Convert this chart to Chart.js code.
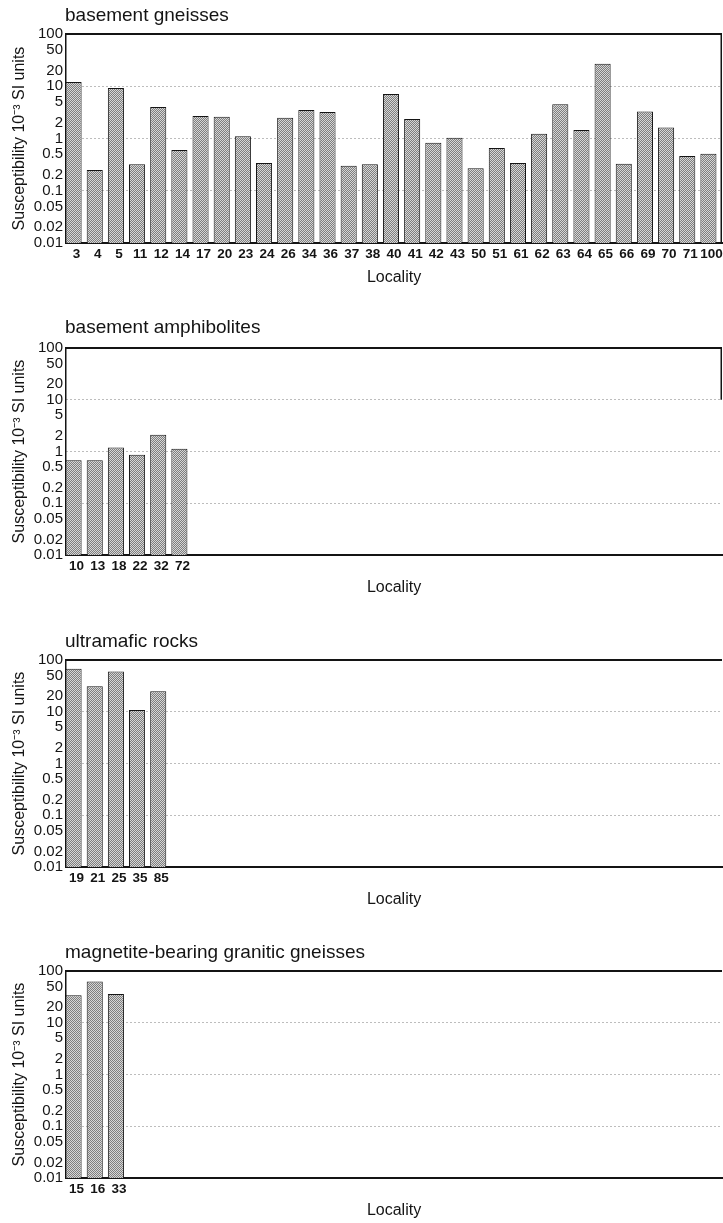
<!DOCTYPE html>
<html>
<head>
<meta charset="utf-8">
<script src="https://cdn.jsdelivr.net/npm/chart.js@4.4.0/dist/chart.umd.min.js"></script>
<style>
  html, body { margin: 0; padding: 0; background: #fff; }
  body { position: relative; width: 723px; height: 1223px; overflow: hidden; }
  .panel { position: absolute; left: 0; width: 723px; height: 290px; }
</style>
</head>
<body>
<div class="panel" style="top:0px"><canvas id="gneiss" width="723" height="290"></canvas></div>
<div class="panel" style="top:310px"><canvas id="amph" width="723" height="290"></canvas></div>
<div class="panel" style="top:622px"><canvas id="ultra" width="723" height="290"></canvas></div>
<div class="panel" style="top:933px"><canvas id="magn" width="723" height="290"></canvas></div>

<script>
// susceptibility (10^-3 SI) per locality
const gneissLoc = ['3','4','5','11','12','14','17','20','23','24','26','34','36','37','38','40',
                   '41','42','43','50','51','61','62','63','64','65','66','69','70','71','100'];
const gneissSus = [12, 0.25, 9.3, 0.32, 4.0, 0.6, 2.7, 2.6, 1.1, 0.34, 2.5, 3.5, 3.2, 0.3, 0.32, 7.1,
                   2.35, 0.83, 1.03, 0.27, 0.66, 0.34, 1.23, 4.5, 1.45, 27, 0.33, 3.3, 1.63, 0.46, 0.51];

const amphLoc = ['10','13','18','22','32','72'];
const amphSus = [0.68, 0.68, 1.2, 0.87, 2.1, 1.13];

const ultraLoc = ['19','21','25','35','85'];
const ultraSus = [68, 31, 60, 10.8, 25];

const magnLoc = ['15','16','33'];
const magnSus = [34, 63, 36];

const yTicks = [0.01, 0.02, 0.05, 0.1, 0.2, 0.5, 1, 2, 5, 10, 20, 50, 100];
const gridValues = [0.1, 1, 10];

const FONT = "'Liberation Sans', Arial, Helvetica, sans-serif";
const INK = '#141414';
const SLOTS = 31;      // every panel uses the same category width
const BAR_PCT = 0.76;

// stippled grey like the printed bars
function makeStipple() {
  const c = document.createElement('canvas');
  c.width = 2; c.height = 2;
  const g = c.getContext('2d');
  g.fillStyle = '#d6d6d6';
  g.fillRect(0, 0, 2, 2);
  g.fillStyle = '#7e7e7e';
  g.fillRect(0, 0, 1, 1);
  g.fillRect(1, 1, 1, 1);
  return g.createPattern(c, 'repeat');
}
const stipple = makeStipple();

// the printed bars sit at the left of each category slot, not centred
const leftAlignBars = {
  id: 'leftAlignBars',
  beforeDatasetsDraw(chart) {
    const x = chart.scales.x;
    const slot = x.width / x.ticks.length;
    chart.ctx.save();
    chart.ctx.translate(-Math.round(slot * (1 - BAR_PCT) / 2), 0);
  },
  afterDatasetsDraw(chart) {
    chart.ctx.restore();
  }
};

// panel title at the plot's left edge, plus the top / right frame lines
const panelFrame = {
  id: 'panelFrame',
  afterDraw(chart, args, opts) {
    const ctx = chart.ctx, a = chart.chartArea, y = chart.scales.y;
    ctx.save();
    ctx.strokeStyle = INK;
    ctx.lineWidth = 2;
    ctx.beginPath();
    ctx.moveTo(a.left, a.top);
    ctx.lineTo(a.right, a.top);
    ctx.stroke();
    if (opts.rightTo) {
      ctx.lineWidth = 1.5;
      ctx.beginPath();
      ctx.moveTo(a.right - 0.75, a.top);
      ctx.lineTo(a.right - 0.75, y.getPixelForValue(opts.rightTo));
      ctx.stroke();
    }
    ctx.fillStyle = INK;
    ctx.font = '19px ' + FONT;
    ctx.textAlign = 'left';
    ctx.textBaseline = 'middle';
    ctx.fillText(opts.text, a.left - 1, opts.titleY);
    ctx.restore();
  }
};

function makeChart(id, title, locs, values, rightTo, padTop, xHeight, titleY) {
  const labels = locs.concat(Array(SLOTS - locs.length).fill(''));
  return new Chart(document.getElementById(id), {
    type: 'bar',
    data: {
      labels: labels,
      datasets: [{
        data: values,
        backgroundColor: stipple,
        borderColor: INK,
        borderWidth: 1,
        barPercentage: BAR_PCT,
        categoryPercentage: 1
      }]
    },
    options: {
      responsive: false,
      animation: false,
      devicePixelRatio: 1,
      layout: { padding: { top: padTop, right: 1, left: 0, bottom: 0 } },
      plugins: {
        legend: { display: false },
        tooltip: { enabled: false },
        panelFrame: { text: title, rightTo: rightTo, titleY: titleY }
      },
      scales: {
        x: {
          grid: { display: false, drawTicks: false, tickLength: 0 },
          border: { color: INK, width: 2 },
          ticks: {
            autoSkip: false, maxRotation: 0, padding: 3,
            color: INK, font: { family: FONT, size: 13.5, weight: 'bold' }
          },
          title: {
            display: true, text: 'Locality', color: INK,
            font: { family: FONT, size: 16 }, padding: { top: 0, bottom: 3 }
          },
          afterFit(s) {
            s.height = xHeight;
            s.paddingLeft = 0;
            s.paddingRight = 0;
          }
        },
        y: {
          type: 'logarithmic',
          min: 0.01,
          max: 100,
          afterBuildTicks(s) { s.ticks = yTicks.map(v => ({ value: v })); },
          ticks: {
            autoSkip: false, padding: 3, color: INK,
            font: { family: FONT, size: 15 },
            callback: v => String(v)
          },
          grid: {
            color: c => (c.tick && gridValues.includes(c.tick.value)) ? '#7a7a7a' : 'rgba(0,0,0,0)',
            lineWidth: 1,
            drawTicks: false
          },
          border: { color: INK, width: 1.5, dash: [1, 3] },
          title: {
            display: true, text: 'Susceptibility 10⁻³ SI units', color: INK,
            font: { family: FONT, size: 16 }, padding: { top: 10, bottom: 0 }
          },
          afterFit(s) { s.width = 66; }
        }
      }
    },
    plugins: [leftAlignBars, panelFrame]
  });
}

makeChart('gneiss', 'basement gneisses', gneissLoc, gneissSus, 0.01, 34, 47, 16);
makeChart('amph', 'basement amphibolites', amphLoc, amphSus, 10, 38, 45, 18);
makeChart('ultra', 'ultramafic rocks', ultraLoc, ultraSus, null, 38, 45, 20);
makeChart('magn', 'magnetite-bearing granitic gneisses', magnLoc, magnSus, null, 38, 45, 20);
</script>
</body>
</html>
